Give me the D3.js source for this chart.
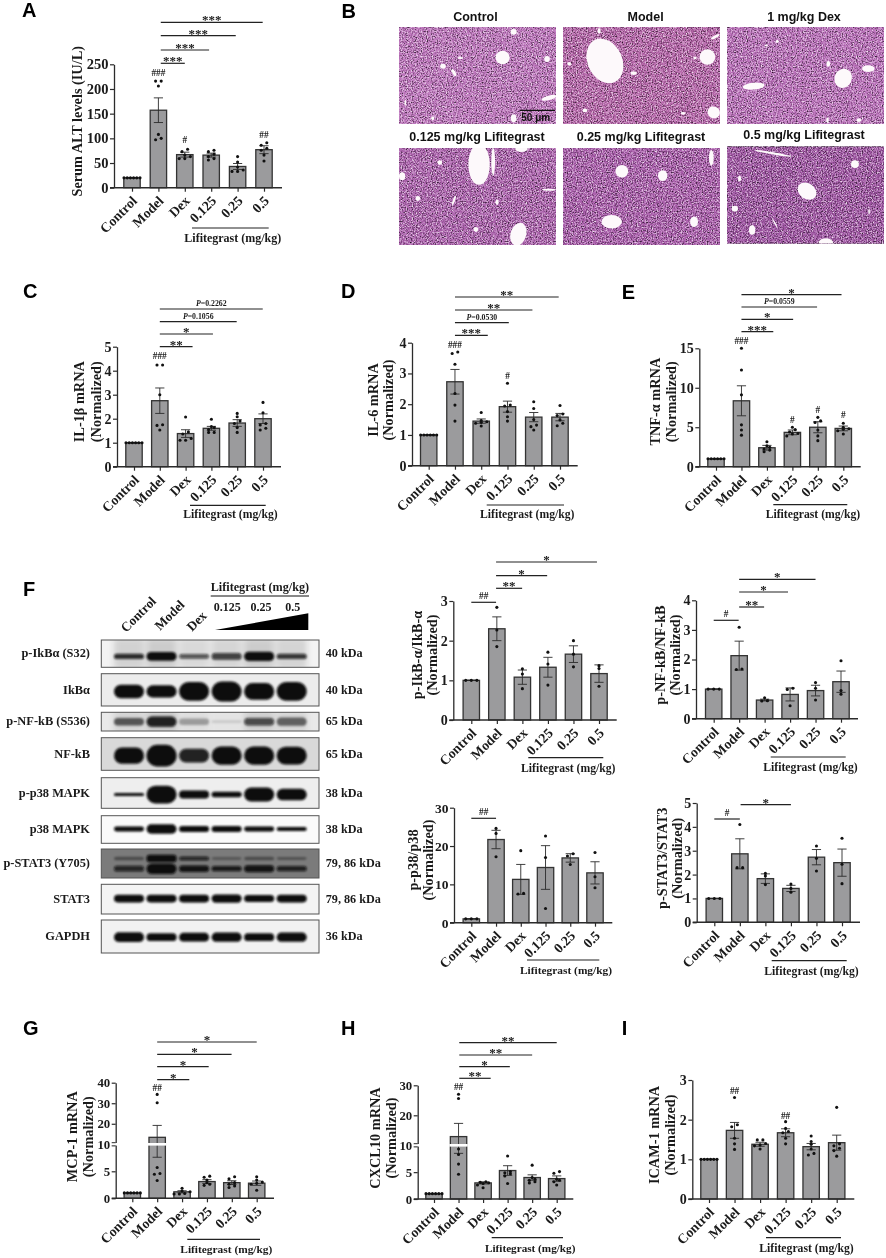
<!DOCTYPE html>
<html>
<head>
<meta charset="utf-8">
<script src="https://cdn.jsdelivr.net/npm/d3@7"></script>
<style>
  html, body { margin: 0; padding: 0; background: #fff; }
  svg { display: block; opacity: 0.999; }
  text { font-family: "Liberation Serif", serif; font-weight: bold; fill: #1a1a1a; }
  .sans { font-family: "Liberation Sans", sans-serif; }
</style>
</head>
<body>
<div id="fig"></div>
<script>
// Svg defs
let w = 886,
    h = 1258;

// Data defs
let categories = ["Control", "Model", "Dex", "0.125", "0.25", "0.5"];
let sixOnes = [1, 1, 1, 1, 1, 1];
let threeOnes = [1, 1, 1];

// A: serum ALT
let meansA = [20, 157, 67, 66, 43, 77];
let semsA = [0.5, 25, 5, 4, 6, 8];
let pointsA = [
  [20, 20, 20, 20, 20, 20],
  [216, 216, 206, 108, 100, 97],
  [78, 73, 66, 63, 59, 59],
  [76, 73, 68, 63, 59, 56],
  [63, 52, 42, 36, 33, 33],
  [91, 86, 80, 76, 66, 54]
];
let bracketsA = [[1.09, 2, "***"], [1.09, 2.92, "***"], [1.09, 3.93, "***"], [1.09, 4.95, "***"]];
let hashA = [[1, 233, "###"], [2, 97, "#"], [5, 107, "##"]];

// C: IL-1b
let meansC = [1, 2.75, 1.38, 1.6, 1.82, 2.0];
let semsC = [0.01, 0.53, 0.16, 0.08, 0.14, 0.2];
let pointsC = [
  sixOnes,
  [4.24, 4.24, 3.0, 1.75, 1.72, 1.53],
  [2.07, 1.45, 1.36, 1.18, 1.1, 1.1],
  [1.98, 1.67, 1.63, 1.55, 1.43, 1.43],
  [2.22, 2.08, 1.9, 1.8, 1.63, 1.43],
  [2.68, 2.25, 1.8, 1.74, 1.6, 1.53]
];
let bracketsC = [[1, 2.27, "**"], [1, 3.06, "*"], [1, 3.98, "P=0.1056"], [1, 4.99, "P=0.2262"]];
let hashC = [[1, 4.64, "###"]];

// D: IL-6
let meansD = [1, 2.73, 1.45, 1.92, 1.58, 1.58];
let semsD = [0.01, 0.4, 0.07, 0.18, 0.15, 0.12];
let pointsD = [
  sixOnes,
  [3.7, 3.65, 3.3, 2.35, 1.97, 1.45],
  [1.73, 1.47, 1.43, 1.41, 1.38, 1.29],
  [2.68, 1.97, 1.94, 1.76, 1.59, 1.45],
  [2.08, 1.86, 1.5, 1.32, 1.27, 1.16],
  [1.96, 1.68, 1.63, 1.49, 1.38, 1.3]
];
let bracketsD = [[1, 2.25, "***"], [1, 3.05, "P=0.0530"], [1, 3.95, "**"], [1, 4.95, "**"]];
let hashD = [[1, 3.93, "###"], [3, 2.94, "#"]];

// E: TNF-a
let meansE = [1, 8.35, 2.4, 4.35, 5.0, 4.85];
let semsE = [0.02, 1.9, 0.3, 0.3, 0.7, 0.3];
let pointsE = [
  sixOnes,
  [15, 12.25, 9.1, 5.3, 4.65, 4.0],
  [3.17, 2.66, 2.45, 2.24, 2.1, 1.9],
  [5, 4.7, 4.4, 4.2, 4.15, 3.9],
  [6.25, 5.8, 5.6, 4.65, 3.9, 3.3],
  [5.5, 5, 4.8, 4.75, 4.55, 4.15]
];
let bracketsE = [[1, 2.25, "***"], [1, 3.03, "*"], [1, 3.97, "P=0.0559"], [1, 4.93, "*"]];
let hashE = [[1, 16, "###"], [3, 6, "#"], [4, 7.2, "#"], [5, 6.6, "#"]];

// F: blot ratios
let meansIkb = [1, 2.3, 1.08, 1.33, 1.66, 1.17];
let semsIkb = [0.005, 0.3, 0.18, 0.25, 0.21, 0.22];
let pointsIkb = [
  threeOnes,
  [2.84, 2.27, 1.85],
  [1.29, 1.16, 0.79],
  [1.71, 1.41, 0.88],
  [2, 1.66, 1.34],
  [1.37, 1.3, 0.85]
];
let bracketsIkb = [[0, 0.97, "##"], [0.97, 1.99, "**"], [0.97, 2.97, "*"], [0.97, 4.92, "*"]];

let meansNf = [1, 2.13, 0.63, 0.82, 0.95, 1.25];
let semsNf = [0.005, 0.49, 0.03, 0.22, 0.18, 0.36];
let pointsNf = [
  threeOnes,
  [3.09, 1.68, 1.66],
  [0.71, 0.61, 0.6],
  [1.03, 0.99, 0.44],
  [1.22, 1.03, 0.63],
  [1.96, 0.95, 0.83]
];
let bracketsNf = [[0, 0.98, "#"], [1, 1.98, "**"], [1, 2.92, "*"], [1, 4, "*"]];

let meansP38 = [1, 21.7, 11.3, 14.4, 16.9, 13];
let semsP38 = [0.05, 2.4, 3.9, 5.7, 1.1, 2.9];
let pointsP38 = [
  threeOnes,
  [24.6, 23.3, 17.2],
  [18.8, 7.65, 7.5],
  [22.6, 17, 3.7],
  [18, 17.4, 15.2],
  [18.3, 12, 9.1]
];
let bracketsP38 = [[0, 1, "##"]];

let meansStat = [1, 2.87, 1.83, 1.42, 2.73, 2.5];
let semsStat = [0.005, 0.63, 0.2, 0.13, 0.32, 0.57];
let pointsStat = [
  threeOnes,
  [4.1, 2.29, 2.29],
  [2.05, 1.94, 1.58],
  [1.6, 1.42, 1.26],
  [3.2, 2.68, 2.15],
  [3.52, 2.43, 1.62]
];
let bracketsStat = [[0, 1, "#"], [1.03, 3, "*"]];

// G: MCP-1
let meansG = [1, 13.4, 1.2, 3.1, 2.9, 2.8];
let semsG = [0.02, 5.8, 0.2, 0.35, 0.35, 0.4];
let pointsG = [
  sixOnes,
  [34.3, 30.2, 5.7, 4.6, 4.45, 3.3],
  [1.85, 1.36, 1.2, 0.9, 0.8, 0.8],
  [4.1, 3.9, 3.4, 2.9, 2.6, 2.4],
  [4, 3.6, 2.9, 2.6, 2.3, 2],
  [4, 3.4, 3, 2.8, 2.6, 1.5]
];
let bracketsG = [[1, 2.29, "*"], [1, 3.07, "*"], [1, 3.99, "*"], [1, 5, "*"]];
let hashG = [[1, 37.5, "##"]];

// H: CXCL10
let meansH = [1, 12.9, 3, 5.3, 4, 3.8];
let semsH = [0.02, 4.4, 0.2, 0.9, 0.5, 0.5];
let pointsH = [
  sixOnes,
  [27, 25.6, 9.3, 8.3, 6.5, 4.6],
  [3.2, 3.1, 3, 2.9, 2.6, 2.1],
  [8, 5.1, 4.9, 4.7, 4.3, 2.9],
  [6.3, 4, 3.7, 3.5, 3.2, 3],
  [5.1, 4.8, 3.7, 3.5, 3.2, 2.6]
];
let bracketsH = [[1.03, 2.31, "**"], [1.03, 3.09, "*"], [1.03, 4, "**"], [1.03, 5, "**"]];
let hashH = [[1, 29.6, "##"]];

// I: ICAM-1
let meansI = [1, 1.73, 1.38, 1.67, 1.32, 1.42];
let semsI = [0.005, 0.2, 0.05, 0.1, 0.08, 0.19];
let pointsI = [
  sixOnes,
  [2.56, 1.87, 1.82, 1.53, 1.39, 1.25],
  [1.49, 1.49, 1.4, 1.36, 1.34, 1.26],
  [1.95, 1.78, 1.7, 1.67, 1.53, 1.39],
  [1.59, 1.45, 1.38, 1.26, 1.15, 1.11],
  [2.31, 1.39, 1.34, 1.28, 1.22, 1.08]
];
let hashI = [[1, 2.73, "##"], [3, 2.1, "##"]];

// B: micrograph titles and vessels, in percent of the picture [cx, cy, rx, ry, angle]
let histoTitles = ["Control", "Model", "1 mg/kg Dex", "0.125 mg/kg Lifitegrast", "0.25 mg/kg Lifitegrast", "0.5 mg/kg Lifitegrast"];
let holesControl = [[66,31.5,4.5,7,0],[73,5,2,3,0],[94.3,33,1.8,3,0],[95.5,73,5,2.3,-15],[28,40.5,1.8,2.5,0],[35,47,1,4,-30],[39,32,1.8,1,0],[73,94,1.8,4,0],[21.5,94,1,2,0],[4,78,0.5,3,0]];
let holesModel = [[26.7,35,11,24,-25],[92,31,5,8,0],[96,88,4,6,30],[23,4,1,3,0],[97,10,3,1.5,-30],[45,47.5,2,2,0],[76.5,89,1.5,1.5,0],[14,86,1.5,2,0],[4,38,1.2,2,0],[84,32,1,1.5,0]];
let holesDex = [[74,53,5.5,10,25],[17,61,7,3.5,-5],[90,43,4,3.5,0],[64.5,38,1.2,3,0],[32,15,1,1.5,0],[25,19,1,1,0],[84,96,1.5,2,0],[64,96,0.8,3,0]];
let holes0125 = [[51,17,6.8,21,0],[60,14,1.2,14,0],[78,1,4,3,0],[76,89,5,12,15],[2,29,2,4,0],[26,15,1.5,2.5,0],[12,52,1.5,2.5,0],[35,54,0.7,5,20],[62.5,56,1,3,0],[95.5,43,4.5,1,0],[49,84,1.5,2.5,0]];
let holes025 = [[37.5,24,4,6.5,0],[63.5,28.5,3,5.5,0],[31,76,6.5,7,0],[83.5,76,2.5,5.5,0],[94.5,10,1.5,8,0]];
let holes05 = [[29.5,7,12,1.2,10],[51,46,6.5,8,35],[81.5,18,2.5,4,0],[16,86,2,5,0],[5,64,2,3,0],[63,98.5,4.5,4,0],[8,33,1,3,0],[90.5,67,0.5,3,0],[30.5,79,0.4,5,-30]];
let histoHoles = [holesControl, holesModel, holesDex, holes0125, holes025, holes05];

// F: blots, one row per membrane. Band thickness (share of the box) and darkness per lane
let blotNames = ["p-IkBα (S32)", "IkBα", "p-NF-kB (S536)", "NF-kB", "p-p38 MAPK", "p38 MAPK", "p-STAT3 (Y705)", "STAT3", "GAPDH"];
let blotKda = ["40 kDa", "40 kDa", "65 kDa", "65 kDa", "38 kDa", "38 kDa", "79, 86 kDa", "79, 86 kDa", "36 kDa"];
let bandThick = [
  [0.2, 0.32, 0.18, 0.25, 0.34, 0.2],
  [0.42, 0.38, 0.58, 0.62, 0.52, 0.58],
  [0.4, 0.55, 0.35, 0.15, 0.4, 0.45],
  [0.5, 0.66, 0.42, 0.56, 0.56, 0.55],
  [0.1, 0.58, 0.26, 0.18, 0.46, 0.38],
  [0.18, 0.34, 0.22, 0.22, 0.18, 0.15],
  [0.2, 0.36, 0.22, 0.18, 0.24, 0.18],
  [0.26, 0.26, 0.26, 0.28, 0.24, 0.26],
  [0.3, 0.24, 0.26, 0.28, 0.24, 0.28]
];
let bandDark = [
  [0.85, 1, 0.65, 0.75, 1, 0.8],
  [1, 1, 1, 1, 1, 1],
  [0.6, 0.9, 0.3, 0.12, 0.7, 0.55],
  [1, 1, 0.9, 1, 1, 1],
  [1, 1, 1, 1, 1, 1],
  [1, 1, 1, 1, 1, 1],
  [0.8, 1, 0.95, 0.9, 0.95, 0.85],
  [1, 1, 1, 1, 1, 1],
  [1, 1, 1, 1, 1, 1]
];
let stat3UpperThick = [0.12, 0.26, 0.14, 0.1, 0.12, 0.1];
let stat3UpperDark = [0.4, 1, 0.8, 0.3, 0.4, 0.35];

// Create svg canvas
let svg = d3.select("#fig").append("svg")
  .attr("width", w)
  .attr("height", h)
  .attr("viewBox", [0, 0, w, h]);
let defs = svg.append("defs");

// Tissue grain for the micrographs
let grain = defs.append("filter").attr("id", "grain")
  .attr("x", 0).attr("y", 0).attr("width", 1).attr("height", 1)
  .attr("color-interpolation-filters", "sRGB");
grain.append("feTurbulence")
  .attr("type", "fractalNoise").attr("baseFrequency", 0.8).attr("numOctaves", 2).attr("seed", 4).attr("result", "n");
grain.append("feColorMatrix").attr("in", "n").attr("type", "matrix")
  .attr("values", "1.1 0 0 0 -0.03  1.1 0 0 0 -0.03  1.1 0 0 0 -0.03  0 0 0 0 1").attr("result", "g");
grain.append("feGaussianBlur").attr("in", "g").attr("stdDeviation", 0.45).attr("result", "gb");
grain.append("feBlend").attr("in", "SourceGraphic").attr("in2", "gb").attr("mode", "overlay");

// Soft band edges for the blots
defs.append("filter").attr("id", "soft")
  .attr("x", "-20%").attr("y", "-60%").attr("width", "140%").attr("height", "220%")
  .append("feGaussianBlur").attr("stdDeviation", 1.1);
defs.append("filter").attr("id", "haze")
  .attr("x", "-30%").attr("y", "-60%").attr("width", "160%").attr("height", "220%")
  .append("feGaussianBlur").attr("stdDeviation", 3);

// Panel letters
let letters = [["A", 22, 17], ["B", 341.5, 17.7], ["C", 23, 298], ["D", 341, 298], ["E", 621.7, 299], ["F", 23, 595.7], ["G", 23, 1035], ["H", 341, 1035], ["I", 621.7, 1035]];
svg.append("g").selectAll("text").data(letters).join("text")
  .attr("class", "sans")
  .attr("x", d => d[1]).attr("y", d => d[2])
  .attr("font-size", 20)
  .style("fill", "#000")
  .text(d => d[0]);

// Bar panels
let layoutA = { axisX: 114, xEnd: 282, c0: 132, c5: 264, yDomain: [0, 250], yRange: [187.7, 64.3], ticks: [0, 50, 100, 150, 200, 250], tickFs: 14.5,
  label: ["Serum ALT levels (IU/L)"], labelX: [77.3], labelY: 121.3, bracketY: [63.3, 50, 35.7, 22.3],
  lifLine: [192, 268.7, 228], lifText: [184.3, 242], lifFs: 12 };
let layoutC = { axisX: 117, xEnd: 281, c0: 134, c5: 263, yDomain: [0, 5], yRange: [466.7, 346.7], ticks: [0, 1, 2, 3, 4, 5], tickFs: 14,
  label: ["IL-1β mRNA", "(Normalized)"], labelX: [79, 96], labelY: 401.7, bracketY: [346.7, 334, 321.7, 309],
  lifLine: [190, 265.7, 505.3], lifText: [183.3, 518], lifFs: 11.7 };
let layoutD = { axisX: 412, xEnd: 577.7, c0: 428.7, c5: 560, yDomain: [0, 4], yRange: [465.7, 342.7], ticks: [0, 1, 2, 3, 4], tickFs: 14,
  label: ["IL-6 mRNA", "(Normalized)"], labelX: [372.7, 388.3], labelY: 400, bracketY: [335.3, 322.7, 310, 297],
  lifLine: [486.7, 564, 505], lifText: [480, 518], lifFs: 11.7 };
let layoutE = { axisX: 699.3, xEnd: 860.7, c0: 716, c5: 843.3, yDomain: [0, 15], yRange: [466.7, 348.3], ticks: [0, 5, 10, 15], tickFs: 14,
  label: ["TNF-α mRNA", "(Normalized)"], labelX: [655, 671], labelY: 401.7, bracketY: [331.7, 319.3, 307, 294.7],
  lifLine: [773.3, 847.3, 504.7], lifText: [765.7, 518], lifFs: 11.7 };
let layoutIkb = { axisX: 453.3, xEnd: 616.7, c0: 471.3, c5: 599, yDomain: [0, 3], yRange: [720, 601], ticks: [0, 1, 2, 3], tickFs: 14,
  label: ["p-IkB-α/IkB-α", "(Normalized)"], labelX: [416.7, 432.3], labelY: 655, bracketY: [602.3, 588.3, 575.7, 562],
  lifLine: [528.3, 603.3, 757.7], lifText: [521, 771.7], lifFs: 11.7 };
let layoutNf = { axisX: 696, xEnd: 858, c0: 713.7, c5: 841, yDomain: [0, 4], yRange: [718.7, 600.3], ticks: [0, 1, 2, 3, 4], tickFs: 14,
  label: ["p-NF-kB/NF-kB", "(Normalized)"], labelX: [660, 675], labelY: 655, bracketY: [620.3, 607, 592, 579.3],
  lifLine: [770.7, 845.7, 757], lifText: [763.3, 771], lifFs: 11.7 };
let layoutP38 = { axisX: 454, xEnd: 612.3, c0: 471.3, c5: 595, yDomain: [0, 30], yRange: [922.7, 807.7], ticks: [0, 10, 20, 30], tickFs: 13.5,
  label: ["p-p38/p38", "(Normalized)"], labelX: [413.3, 427.7], labelY: 860, bracketY: [818.3],
  lifLine: [527, 599.3, 960], lifText: [520, 974], lifFs: 11.4 };
let layoutStat = { axisX: 696.7, xEnd: 860, c0: 714.3, c5: 842, yDomain: [0, 5], yRange: [922.3, 803], ticks: [0, 1, 2, 3, 4, 5], tickFs: 14,
  label: ["p-STAT3/STAT3", "(Normalized)"], labelX: [661.7, 676.7], labelY: 858.3, bracketY: [819, 804.7],
  lifLine: [771.7, 846.7, 960.7], lifText: [764.3, 974.7], lifFs: 11.7 };
let layoutG = { axisX: 115.7, xEnd: 274, c0: 132.3, c5: 256.7, yDomain: [0, 10, 40], yRange: [1198.3, 1144.3, 1082.7], ticks: [0, 5, 10, 20, 30, 40], tickFs: 12.8, breakAt: 10,
  label: ["MCP-1 mRNA", "(Normalized)"], labelX: [71.7, 88.3], labelY: 1136.7, bracketY: [1079.7, 1066.7, 1054.3, 1042],
  lifLine: [187.3, 260, 1239.3], lifText: [180.3, 1253], lifFs: 11.4 };
let layoutH = { axisX: 417.7, xEnd: 573.3, c0: 434, c5: 556.7, yDomain: [0, 10, 30], yRange: [1199, 1145.3, 1085.3], ticks: [0, 5, 10, 20, 30], tickFs: 12.8, breakAt: 10,
  label: ["CXCL10 mRNA", "(Normalized)"], labelX: [375, 390.7], labelY: 1138, bracketY: [1078.3, 1066.7, 1055, 1042.7],
  lifLine: [491.7, 563, 1237.7], lifText: [485, 1251.7], lifFs: 11.2 };
let layoutI = { axisX: 692.3, xEnd: 854.3, c0: 709, c5: 836.7, yDomain: [0, 3], yRange: [1199, 1080], ticks: [0, 1, 2, 3], tickFs: 14,
  label: ["ICAM-1 mRNA", "(Normalized)"], labelX: [654, 670], labelY: 1135, bracketY: [],
  lifLine: [766, 841, 1237.7], lifText: [759.3, 1251.7], lifFs: 11.7 };

drawBars(layoutA, meansA, semsA, pointsA, bracketsA, hashA);
drawBars(layoutC, meansC, semsC, pointsC, bracketsC, hashC);
drawBars(layoutD, meansD, semsD, pointsD, bracketsD, hashD);
drawBars(layoutE, meansE, semsE, pointsE, bracketsE, hashE);
drawBars(layoutIkb, meansIkb, semsIkb, pointsIkb, bracketsIkb, []);
drawBars(layoutNf, meansNf, semsNf, pointsNf, bracketsNf, []);
drawBars(layoutP38, meansP38, semsP38, pointsP38, bracketsP38, []);
drawBars(layoutStat, meansStat, semsStat, pointsStat, bracketsStat, []);
drawBars(layoutG, meansG, semsG, pointsG, bracketsG, hashG);
drawBars(layoutH, meansH, semsH, pointsH, bracketsH, hashH);
drawBars(layoutI, meansI, semsI, pointsI, [], hashI);

drawHistology();
drawBlots();


function drawBars(L, means, sems, points, brackets, hashes) {
  let g = svg.append("g");
  let x = d3.scaleLinear().domain([0, 5]).range([L.c0, L.c5]);
  let y = d3.scaleLinear().domain(L.yDomain).range(L.yRange);
  let barW = 16.4;
  let ink = "#2b2b2b";

  // Bars
  g.append("g").selectAll("rect").data(means).join("rect")
    .attr("x", (d, i) => x(i) - barW / 2)
    .attr("y", d => y(d))
    .attr("width", barW)
    .attr("height", d => y(0) - y(d))
    .attr("fill", "#9b9b9d")
    .attr("stroke", "#333")
    .attr("stroke-width", 1.3);

  // Error bars
  let err = g.append("g").attr("stroke", ink).attr("stroke-width", 0.9);
  err.selectAll(".stem").data(means).join("line").attr("class", "stem")
    .attr("x1", (d, i) => x(i)).attr("x2", (d, i) => x(i))
    .attr("y1", (d, i) => y(d + sems[i])).attr("y2", (d, i) => y(d - sems[i]));
  err.selectAll(".top").data(means).join("line").attr("class", "top")
    .attr("x1", (d, i) => x(i) - 4.6).attr("x2", (d, i) => x(i) + 4.6)
    .attr("y1", (d, i) => y(d + sems[i])).attr("y2", (d, i) => y(d + sems[i]));
  err.selectAll(".bot").data(means).join("line").attr("class", "bot")
    .attr("x1", (d, i) => x(i) - 4.6).attr("x2", (d, i) => x(i) + 4.6)
    .attr("y1", (d, i) => y(d - sems[i])).attr("y2", (d, i) => y(d - sems[i]));

  // Data points, nudged sideways when they would overlap
  points.forEach((vals, i) => {
    g.append("g").selectAll("circle").data(swarm(vals, y)).join("circle")
      .attr("cx", d => x(i) + d.off)
      .attr("cy", d => y(d.v))
      .attr("r", 1.55)
      .attr("fill", "#111");
  });

  // Axes
  let yAxis = d3.axisLeft(y).tickValues(L.ticks).tickSize(4).tickSizeOuter(0).tickPadding(1.5).tickFormat(d3.format("d"));
  let gy = g.append("g").attr("transform", `translate(${L.axisX},0)`).call(yAxis);
  gy.selectAll("text").attr("font-size", L.tickFs);

  let xAxis = d3.axisBottom(x).tickValues(d3.range(6)).tickSize(4).tickFormat(i => categories[i]);
  let gx = g.append("g").attr("transform", `translate(0,${y(0)})`).call(xAxis);
  gx.select(".domain").remove();
  gx.selectAll("text")
    .attr("font-size", 13.8)
    .attr("text-anchor", "end")
    .attr("transform", "translate(-1.5,7) rotate(-45)")
    .attr("x", 0).attr("y", 5).attr("dy", "0.35em");
  gx.selectAll("line").attr("stroke", ink).attr("stroke-width", 1.2);
  gy.selectAll("line").attr("stroke", ink).attr("stroke-width", 1.2);
  gy.select(".domain").attr("stroke", ink).attr("stroke-width", 1.3);
  g.append("line")
    .attr("x1", L.axisX - 4).attr("x2", L.xEnd)
    .attr("y1", y(0)).attr("y2", y(0))
    .attr("stroke", ink).attr("stroke-width", 1.4);

  // Axis break through the y axis and the tall bar
  if (L.breakAt) {
    let by = y(L.breakAt);
    g.append("rect").attr("x", L.axisX - 5).attr("y", by - 1.3).attr("width", 7).attr("height", 2.6).attr("fill", "#fff");
    means.forEach((m, i) => {
      if (m > L.breakAt) {
        g.append("rect").attr("x", x(i) - barW / 2 - 1).attr("y", by - 1.3).attr("width", barW + 2).attr("height", 2.6).attr("fill", "#fff");
      }
    });
    [-1.6, 1.6].forEach(d => g.append("line")
      .attr("x1", L.axisX - 4).attr("x2", L.axisX).attr("y1", by + d).attr("y2", by + d)
      .attr("stroke", ink).attr("stroke-width", 1));
  }

  // Y title
  L.label.forEach((t, i) => {
    g.append("text")
      .attr("transform", `translate(${L.labelX[i]},${L.labelY}) rotate(-90)`)
      .attr("text-anchor", "middle")
      .attr("dy", "0.35em")
      .attr("font-size", 14.3)
      .text(t);
  });

  // Significance lines
  brackets.forEach((b, i) => {
    let ly = L.bracketY[i];
    g.append("line")
      .attr("x1", x(b[0])).attr("x2", x(b[1]))
      .attr("y1", ly).attr("y2", ly)
      .attr("stroke", "#222").attr("stroke-width", 1.2);
    let mid = (x(b[0]) + x(b[1])) / 2;
    if (b[2].startsWith("P=")) {
      let t = g.append("text").attr("x", mid).attr("y", ly - 3).attr("text-anchor", "middle").attr("font-size", 7.8);
      t.append("tspan").attr("font-style", "italic").text("P");
      t.append("tspan").text(b[2].slice(1));
    } else if (b[2].startsWith("#")) {
      g.append("text").attr("x", mid).attr("y", ly - 3.5).attr("text-anchor", "middle").attr("font-size", 9.3).text(b[2]);
    } else {
      g.append("text").attr("x", mid).attr("y", ly + 2).attr("text-anchor", "middle").attr("font-size", 13).text(b[2]);
    }
  });

  // Hash marks over the bars
  g.append("g").selectAll("text").data(hashes).join("text")
    .attr("x", d => x(d[0]))
    .attr("y", d => y(d[1]))
    .attr("dy", "0.35em")
    .attr("text-anchor", "middle")
    .attr("font-size", 9.3)
    .text(d => d[2]);

  // Lifitegrast note under the axis
  g.append("line")
    .attr("x1", L.lifLine[0]).attr("x2", L.lifLine[1])
    .attr("y1", L.lifLine[2]).attr("y2", L.lifLine[2])
    .attr("stroke", "#222").attr("stroke-width", 1.2);
  g.append("text")
    .attr("x", L.lifText[0]).attr("y", L.lifText[1])
    .attr("font-size", L.lifFs)
    .text("Lifitegrast (mg/kg)");
}

function drawHistology() {
  let g = svg.append("g");
  let cols = [[399, 556], [563, 720], [727, 884]];
  let rows = [[27, 124], [148, 245]];
  let base = ["#bc74bb", "#b565a9", "#b96fb9", "#ac62ad", "#a95dab", "#9f55a3"];
  let titleX = [475.4, 645.6, 804, 477, 641, 804];
  let titleY = [20.6, 20.6, 20.6, 141, 141, 139.4];

  histoTitles.forEach((t, k) => {
    let c = cols[k % 3], r = rows[Math.floor(k / 3)];
    let dy = k == 5 ? -1.4 : 0;
    let px = d3.scaleLinear().domain([0, 100]).range(c);
    let py = d3.scaleLinear().domain([0, 100]).range([r[0] + dy, r[1] + dy]);
    let clip = "histo" + k;
    defs.append("clipPath").attr("id", clip).append("rect")
      .attr("x", c[0]).attr("y", r[0] + dy).attr("width", c[1] - c[0]).attr("height", r[1] - r[0]);
    g.append("rect")
      .attr("x", c[0]).attr("y", r[0] + dy)
      .attr("width", c[1] - c[0]).attr("height", r[1] - r[0])
      .attr("fill", base[k])
      .attr("filter", "url(#grain)");
    g.append("g").attr("clip-path", `url(#${clip})`)
      .selectAll("ellipse").data(histoHoles[k]).join("ellipse")
      .attr("rx", d => d[2] * (c[1] - c[0]) / 100)
      .attr("ry", d => d[3] * (r[1] - r[0]) / 100)
      .attr("transform", d => `translate(${px(d[0])},${py(d[1])}) rotate(${d[4]})`)
      .attr("fill", "#fdf9fb");
    g.append("text")
      .attr("class", "sans")
      .attr("x", titleX[k]).attr("y", titleY[k])
      .attr("text-anchor", "middle")
      .attr("font-size", 12.5)
      .style("fill", "#111")
      .text(t);
  });

  // Scale bar
  g.append("line").attr("x1", 519.7).attr("x2", 555).attr("y1", 110.3).attr("y2", 110.3)
    .attr("stroke", "#111").attr("stroke-width", 1.2);
  g.append("text").attr("class", "sans")
    .attr("x", 535.7).attr("y", 120.6)
    .attr("text-anchor", "middle")
    .attr("font-size", 10)
    .style("fill", "#111")
    .text("50 μm");
}

function drawBlots() {
  let g = svg.append("g");
  let boxX = [101.3, 319];
  let boxY = [[640, 667.3], [673.7, 706], [712.3, 731], [737.7, 770.3], [777.7, 808.3], [815.7, 843.3], [849, 878], [884.3, 914], [920, 953]];
  let bandY = [0.6, 0.55, 0.5, 0.55, 0.55, 0.48, 0.68, 0.48, 0.52];
  let back = ["#f3f3f3", "#ececec", "#e9e9e9", "#d9d9d9", "#eeeeee", "#fafafa", "#7b7b7b", "#f4f4f4", "#f2f2f2"];
  let lane = d3.scaleLinear().domain([0, 5]).range([129, 291.7]);
  let laneW = 30;

  blotNames.forEach((name, k) => {
    let top = boxY[k][0], bot = boxY[k][1], hh = bot - top;
    let clip = "blot" + k;
    defs.append("clipPath").attr("id", clip).append("rect")
      .attr("x", boxX[0]).attr("y", top).attr("width", boxX[1] - boxX[0]).attr("height", hh);
    g.append("rect")
      .attr("x", boxX[0]).attr("y", top)
      .attr("width", boxX[1] - boxX[0]).attr("height", hh)
      .attr("fill", back[k]);
    let inner = g.append("g").attr("clip-path", `url(#${clip})`);

    // Smudgy background behind the weak phospho bands
    if (k == 0 || k == 2) {
      inner.append("g").attr("filter", "url(#haze)").selectAll("rect").data(bandDark[k]).join("rect")
        .attr("x", (d, i) => lane(i) - laneW / 2)
        .attr("y", top - 2)
        .attr("width", laneW)
        .attr("height", hh + 4)
        .attr("fill", "#000")
        .attr("opacity", d => d * 0.16);
    }

    // Second band on the p-STAT3 membrane
    if (k == 6) {
      inner.append("g").attr("filter", "url(#soft)").selectAll("rect").data(stat3UpperThick).join("rect")
        .attr("x", (d, i) => lane(i) - laneW / 2)
        .attr("y", d => top + 0.33 * hh - d * hh / 2)
        .attr("width", laneW)
        .attr("height", d => d * hh)
        .attr("rx", 3)
        .attr("fill", "#0a0a0a")
        .attr("opacity", (d, i) => stat3UpperDark[i]);
    }

    inner.append("g").attr("filter", "url(#soft)").selectAll("rect").data(bandThick[k]).join("rect")
      .attr("x", (d, i) => lane(i) - laneW / 2)
      .attr("y", d => top + bandY[k] * hh - d * hh / 2)
      .attr("width", laneW)
      .attr("height", d => d * hh)
      .attr("rx", d => d * hh / 2)
      .attr("fill", "#0a0a0a")
      .attr("opacity", (d, i) => bandDark[k][i]);

    g.append("rect")
      .attr("x", boxX[0]).attr("y", top)
      .attr("width", boxX[1] - boxX[0]).attr("height", hh)
      .attr("fill", "none")
      .attr("stroke", "#555").attr("stroke-width", 1);

    g.append("text")
      .attr("x", 90).attr("y", (top + bot) / 2)
      .attr("dy", "0.3em")
      .attr("text-anchor", "end")
      .attr("font-size", 12.4)
      .text(name);
    g.append("text")
      .attr("x", 325.7).attr("y", (top + bot) / 2)
      .attr("dy", "0.3em")
      .attr("font-size", 12.2)
      .text(blotKda[k]);
  });

  // Lane headers
  [["Control", 126, 633], ["Model", 160, 631], ["Dex", 192, 632]].forEach(d => {
    g.append("text")
      .attr("transform", `translate(${d[1]},${d[2]}) rotate(-45)`)
      .attr("font-size", 13.2)
      .text(d[0]);
  });
  g.append("text").attr("x", 210.7).attr("y", 590.7).attr("font-size", 12.2).text("Lifitegrast (mg/kg)");
  g.append("line").attr("x1", 210.7).attr("x2", 309).attr("y1", 596).attr("y2", 596)
    .attr("stroke", "#111").attr("stroke-width", 1.2);
  [["0.125", 227.3], ["0.25", 261], ["0.5", 292.7]].forEach(d => {
    g.append("text").attr("x", d[1]).attr("y", 610.7)
      .attr("text-anchor", "middle").attr("font-size", 12).text(d[0]);
  });
  g.append("path").attr("d", "M215,630L308.3,613.3L308.3,630Z").attr("fill", "#000");
}

// Sort by value and spread points that land on the same spot
function swarm(vals, y) {
  let sorted = vals.slice().sort((a, b) => a - b);
  let out = [];
  let group = [];
  let flush = () => {
    let n = group.length;
    let gap = n > 1 ? Math.min(5.6, 16 / (n - 1)) : 0;
    group.forEach((v, j) => out.push({ v: v, off: (j - (n - 1) / 2) * gap }));
    group = [];
  };
  sorted.forEach(v => {
    if (group.length && Math.abs(y(group[0]) - y(v)) > 2.6) flush();
    group.push(v);
  });
  flush();
  return out;
}
</script>
</body>
</html>
